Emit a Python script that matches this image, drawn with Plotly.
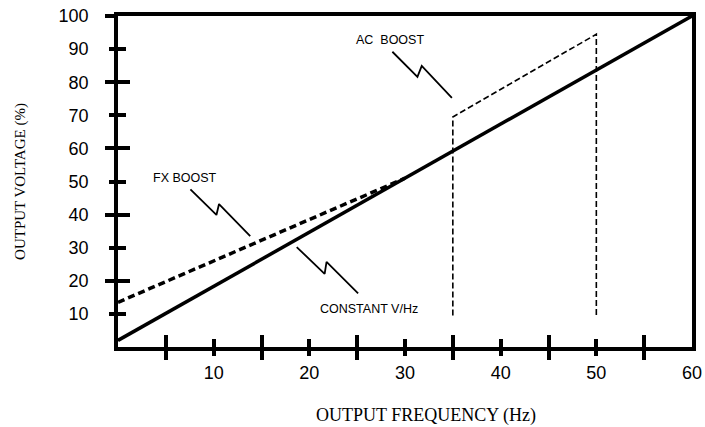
import plotly.graph_objects as go

# ---- data ----
freq_constant = [0, 60]
volt_constant = [2, 100]

freq_fx = [0, 30]
volt_fx = [13.5, 51]

freq_ac = [35, 35, 50, 50]
volt_ac = [9.5, 69.5, 94.5, 9.5]

x_tick_labels = [10, 20, 30, 40, 50, 60]
y_tick_labels = [10, 20, 30, 40, 50, 60, 70, 80, 90, 100]
x_long_ticks = [5, 15, 25, 35, 45, 55]
x_short_ticks = [10, 20, 30, 40, 50]
y_long_ticks = [20, 40, 60, 80, 100]
y_short_ticks = [10, 30, 50, 70, 90]

# leader (zig-zag) callouts, in data units
ac_leader_x = [28.68, 31.3, 31.75, 34.9]
ac_leader_y = [89.2, 81.6, 84.9, 75.3]
fx_leader_x = [7.57, 10.29, 10.56, 13.82]
fx_leader_y = [47.6, 39.9, 43.2, 33.5]
cv_leader_x = [18.68, 21.6, 21.8, 25.1]
cv_leader_y = [30.2, 22.1, 25.7, 16.2]

label_texts = ["AC  BOOST", "FX BOOST", "CONSTANT V/Hz"]
label_x = [28.4, 7.02, 26.2]
label_y = [92.7, 51.1, 11.5]

SANS = "Liberation Sans, Arial, sans-serif"
SERIF = "Liberation Serif, Times New Roman, serif"
LW = 3.5

fig = go.Figure()

fig.add_trace(go.Scatter(x=freq_constant, y=volt_constant, mode="lines",
                         line=dict(color="black", width=3.5), showlegend=False))
fig.add_trace(go.Scatter(x=freq_fx, y=volt_fx, mode="lines",
                         line=dict(color="black", width=3.5, dash="7px,4px"), showlegend=False))
fig.add_trace(go.Scatter(x=freq_ac, y=volt_ac, mode="lines",
                         line=dict(color="black", width=1.6, dash="6px,3px"), showlegend=False))
for lx, ly in [(ac_leader_x, ac_leader_y), (fx_leader_x, fx_leader_y), (cv_leader_x, cv_leader_y)]:
    fig.add_trace(go.Scatter(x=lx, y=ly, mode="lines",
                             line=dict(color="black", width=1.8), showlegend=False))

# dummy traces so the tick-only overlay axes are drawn
fig.add_trace(go.Scatter(x=[None], y=[None], xaxis="x2", yaxis="y2", showlegend=False, hoverinfo="skip"))
fig.add_trace(go.Scatter(x=[None], y=[None], xaxis="x3", yaxis="y3", showlegend=False, hoverinfo="skip"))

for t, x, y in zip(label_texts, label_x, label_y):
    fig.add_annotation(x=x, y=y, text=t, showarrow=False,
                       font=dict(family=SANS, size=12.5, color="black"),
                       xanchor="center", yanchor="middle")

fig.add_annotation(xref="paper", yref="paper", x=0.536, y=-0.208,
                   text="OUTPUT FREQUENCY (Hz)", showarrow=False,
                   font=dict(family=SERIF, size=18, color="black"),
                   xanchor="center", yanchor="middle")
fig.add_annotation(xref="paper", yref="paper", x=-0.17, y=0.5,
                   text="OUTPUT VOLTAGE (%)", showarrow=False, textangle=-90,
                   font=dict(family=SERIF, size=15, color="black"),
                   xanchor="center", yanchor="middle")

tick_common = dict(tickcolor="black", tickwidth=LW, showticklabels=False,
                   showgrid=False, zeroline=False, showline=False, automargin=False)

fig.update_layout(
    width=705, height=427,
    margin=dict(l=118, r=13, t=16, b=80, autoexpand=False),
    paper_bgcolor="white", plot_bgcolor="white",
    showlegend=False,
    xaxis=dict(range=[0, 60], tickvals=x_tick_labels, ticktext=[str(v) for v in x_tick_labels],
               ticks="", showline=True, linecolor="black", linewidth=LW, mirror=True,
               showgrid=False, zeroline=False, ticklabelstandoff=7, automargin=False,
               ticklabeloverflow="allow",
               tickfont=dict(family=SANS, size=18, color="black")),
    yaxis=dict(range=[0, 100], tickvals=y_tick_labels, ticktext=[str(v) for v in y_tick_labels],
               ticks="", showline=True, linecolor="black", linewidth=LW, mirror=True,
               showgrid=False, zeroline=False, ticklabelstandoff=22, automargin=False,
               ticklabeloverflow="allow",
               tickfont=dict(family=SANS, size=18, color="black")),
    xaxis2=dict(range=[0, 60], overlaying="x", anchor="y2", side="bottom",
                tickvals=x_long_ticks, ticks="outside", ticklen=12,
                minor=dict(tickvals=x_short_ticks, ticks="outside", ticklen=8,
                           tickcolor="black", tickwidth=LW, showgrid=False),
                **tick_common),
    yaxis2=dict(range=[0, 100], overlaying="y", anchor="x2", side="left",
                tickvals=y_long_ticks, ticks="outside", ticklen=12,
                minor=dict(tickvals=y_short_ticks, ticks="outside", ticklen=8,
                           tickcolor="black", tickwidth=LW, showgrid=False),
                **tick_common),
    xaxis3=dict(range=[0, 60], overlaying="x", anchor="y3", side="bottom",
                tickvals=x_long_ticks, ticks="inside", ticklen=12,
                minor=dict(tickvals=x_short_ticks, ticks="inside", ticklen=8,
                           tickcolor="black", tickwidth=LW, showgrid=False),
                **tick_common),
    yaxis3=dict(range=[0, 100], overlaying="y", anchor="x3", side="left",
                tickvals=y_long_ticks, ticks="inside", ticklen=12,
                minor=dict(tickvals=y_short_ticks, ticks="inside", ticklen=8,
                           tickcolor="black", tickwidth=LW, showgrid=False),
                **tick_common),
)

# remove the browser's default 8px body margin so the figure fills the window exactly
fig.write_html("out.html", config={"displayModeBar": False},
               post_script="document.body.style.margin='0';")
